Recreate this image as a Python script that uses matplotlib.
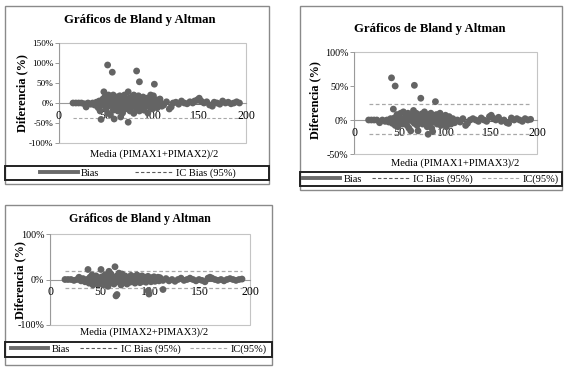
import matplotlib
matplotlib.use("Agg")
import matplotlib.pyplot as plt
from matplotlib.patches import Rectangle
from matplotlib.lines import Line2D

plt.rcParams['font.family'] = ['Liberation Serif', 'DejaVu Serif']

W, H = 566, 372

# ---------------- data ----------------
x1 = [15, 18, 21, 24, 27, 29, 31, 34, 36, 38, 40, 41,
      42, 43, 44, 45, 46, 47, 48, 48, 49, 50, 50, 51, 52, 52, 53, 53, 54, 55, 56, 57, 57, 58, 58, 59,
      60, 60, 61, 62, 63, 63, 64, 65, 66, 66, 67, 68, 68, 69, 70, 70, 71, 72, 73, 74, 74, 75, 75, 76,
      77, 78, 78, 79, 80, 80, 81, 82, 83, 83, 84, 85, 85, 86, 86, 87, 88, 88, 89, 90, 90, 91, 92, 93,
      93, 94, 95, 95, 96, 97, 98, 98, 99, 100, 100, 101, 102, 102, 103, 104, 105, 106, 107, 108, 109, 110,
      112, 115, 118, 120, 122, 125, 128, 131, 134, 137, 140, 143, 145, 148, 150, 152, 155, 158, 161,
      164, 166, 169, 172, 175, 178, 181, 184, 187, 190, 193]
y1 = [0, 0, 0, 0, -2, -10, 0, -3, 0, -5, 2, -8,
      -12, 5, -20, -41, -5, 10, 28, -3, 15, -15, 5, 0, 95, -25, 20, -8, 3, -30, 12, 77, -5, 20, -18, -40,
      0, 8, -10, 15, -20, 5, -3, 18, -35, -12, 2, 10, -25, -5, 20, 0, -15, 8, -8, 28, -48, 12, -3, -20,
      5, 15, -10, 0, -26, 20, -5, 8, 80, -15, 3, 18, -8, 53, -20, 0, 10, -12, 5, -3, 15, -18, 2, -8,
      8, 12, -25, 0, 5, -10, 20, -3, 3, -15, 10, 18, 47, -5, 0, 8, -12, 3, -3, 10, 0, -8,
      -5, 3, -15, -10, 0, 2, -3, 5, 0, -2, 3, 0, 5, 8, 12, 5, 0, 3, -5,
      -8, 2, 0, -3, 5, 0, 2, -2, 0, 3, 0]

x2 = [16, 19, 22, 25, 28, 31, 34, 36, 38, 40,
      41, 42, 43, 44, 45, 45, 46, 47, 48, 49, 50, 51, 52, 53, 54, 55, 56, 57, 58, 59, 60, 60, 61, 62,
      63, 64, 65, 66, 66, 67, 68, 69, 70, 70, 71, 72, 73, 73, 74, 75, 76, 77, 78, 79, 80, 81, 81, 82,
      83, 84, 85, 86, 86, 87, 88, 89, 89, 90, 91, 92, 93, 94, 95, 96, 97, 98, 99, 100, 101, 102, 103,
      104, 105, 106, 108, 110,
      113, 116, 119, 122, 124, 127, 130, 133, 136, 139, 142, 145, 148, 150, 152, 155, 158, 161, 164,
      167, 169, 172, 175, 178, 181, 184, 187, 190, 193]
y2 = [0, 0, 0, 0, -4, 0, -2, 0, -3, 2,
      62, -5, 16, 3, 50, -8, 0, 8, -10, 5, -3, 10, 0, -6, 12, 2, -4, 6, -8, 10, 0, -12, 4, -16,
      8, -2, 14, 51, -5, 3, 10, -8, -16, 2, 6, -4, 32, 0, 9, -6, 3, 12, -3, 5, -10, -21, 8, 0,
      -5, 10, -12, -17, 3, 6, -3, 27, 0, 8, -6, 4, -2, 10, -8, 2, 5, -4, 0, 7, -10, 3, -3,
      5, 0, -6, 2, -4,
      0, -3, 2, -8, -5, 0, 2, 0, -2, 3, 0, -2, 5, 7, 3, 0, 4, -2, 0,
      -4, -5, 3, 0, 2, 0, -2, 2, 0, 1]

x3 = [15, 18, 21, 24, 27, 29, 31, 33, 35, 37,
      38, 39, 40, 41, 42, 43, 44, 45, 46, 47, 48, 49, 50, 51, 52, 53, 54, 55, 56, 57, 58, 59, 60, 60,
      61, 62, 63, 64, 65, 66, 66, 67, 67, 68, 69, 70, 71, 72, 73, 74, 75, 76, 77, 78, 79, 80, 81, 82,
      83, 84, 85, 86, 87, 88, 89, 90, 91, 92, 93, 94, 95, 96, 97, 98, 98, 99, 100, 101, 102, 103, 104,
      105, 106, 107, 108, 109, 110, 111, 113, 113,
      116, 119, 122, 125, 128, 131, 134, 137, 140, 143, 146, 149, 152, 155, 158, 160, 162, 165, 168,
      171, 174, 177, 180, 183, 186, 189, 192]
y3 = [0, 0, 0, -2, 0, 5, -3, 2, -5, 0,
      22, -8, 5, -3, 10, -12, 2, -6, 8, 0, -10, 4, -4, 22, 6, -12, 0, 10, -6, 3, -15, 18, 0, -8,
      12, -3, 5, -10, 28, -36, 2, -33, 8, -5, 14, 0, -12, 12, 4, -6, 8, -2, -10, 5, 0, -6, 9, 2,
      -4, 6, -8, 0, 10, -3, 4, -7, 2, 8, -4, 0, 5, -6, 3, -25, 7, -32, 0, -5, 4, -2, 6,
      -4, 2, 0, 5, -3, 4, 0, -22, -2,
      2, -3, 0, -4, 0, 3, -2, 0, 3, 0, -3, 0, -2, -5, 3, 5, 3, 0, -2,
      0, -3, 0, 2, 0, -2, 0, 1]

bias1, bias2, bias3 = 0, 0, 0
ic_bias1 = [-38]
ic_bias2 = [-2, 2]
ic_bias3 = [-2, 2]
ic2 = [-20, 23]
ic3 = [-18, 19]

yticks1 = [-100, -50, 0, 50, 100, 150]
yticks2 = [-50, 0, 50, 100]
yticks3 = [-100, 0, 100]
xticks = [0, 50, 100, 150, 200]

title = "Gráficos de Bland y Altman"
ylabel = "Diferencia (%)"
xlabels = ["Media (PIMAX1+PIMAX2)/2", "Media (PIMAX1+PIMAX3)/2", "Media (PIMAX2+PIMAX3)/2"]

PT = '#646464'
BIAS_C = '#6a6a6a'
ICB_C = '#5a5a5a'
IC_C = '#a8a8a8'
DASH = (3, 2)


def fbox(l, t, r, b):
    return [l / W, 1 - b / H, (r - l) / W, (b - t) / H]


fig = plt.figure(figsize=(W / 100, H / 100), dpi=100)


def frame(l, t, r, b, ec, lw):
    fig.add_artist(Rectangle((l / W, 1 - b / H), (r - l) / W, (b - t) / H,
                             transform=fig.transFigure, fill=False, ec=ec, lw=lw))


def panel(outer, legbox, legcx, colsp, axbox, xs, ys, ylim, yticks, ytfs, bias, icb, ic,
          xlab, title_xy, title_fs, ylab_xy, xlab_xy, with_ic):
    frame(*outer, ec='#8a8a8a', lw=1.0)
    frame(*legbox, ec='#222222', lw=1.4)
    ax = fig.add_axes(fbox(*axbox))
    ax.set_xlim(0, 200)
    ax.set_ylim(*ylim)
    for s in ['top', 'right', 'left']:
        ax.spines[s].set_visible(False)
    ax.add_patch(Rectangle((0, 0), 1, 1, transform=ax.transAxes, fill=False,
                           ec='#c4c4c4', lw=0.8, clip_on=False, zorder=0))
    ax.axvline(0, color='#9a9a9a', lw=0.8, zorder=1)
    ax.spines['bottom'].set_position(('data', 0))
    ax.spines['bottom'].set_color('#9a9a9a')
    ax.spines['bottom'].set_linewidth(0.8)
    ax.set_xticks(xticks)
    ax.set_xticklabels([str(v) for v in xticks], fontsize=8.5)
    ax.tick_params(axis='x', length=0, pad=5)
    ax.set_yticks(yticks)
    ax.set_yticklabels([f"{v}%" for v in yticks], fontsize=ytfs)
    ax.tick_params(axis='y', length=3, width=0.7, color='#9a9a9a', pad=1)
    xmin, xmax = min(xs), max(xs)
    ax.plot([xmin, xmax], [bias, bias], color=BIAS_C, lw=2.2, zorder=2)
    for v in icb:
        ax.plot([xmin, xmax], [v, v], color=ICB_C if with_ic else IC_C, lw=0.8,
                dashes=DASH, zorder=2)
    for v in ic:
        ax.plot([xmin, xmax], [v, v], color=IC_C, lw=0.9, dashes=DASH, zorder=2)
    ax.scatter(xs, ys, s=24, color=PT, edgecolors='none', zorder=3)

    fig.text(title_xy[0] / W, 1 - title_xy[1] / H, title, ha='center', va='center',
             fontsize=title_fs, fontweight='bold')
    fig.text(ylab_xy[0] / W, 1 - ylab_xy[1] / H, ylabel, ha='center', va='center',
             rotation=90, fontsize=8.8, fontweight='bold')
    fig.text(xlab_xy[0] / W, 1 - xlab_xy[1] / H, xlab, ha='center', va='center',
             fontsize=7.6)

    handles = [Line2D([], [], color=BIAS_C, lw=2.8),
               Line2D([], [], color=ICB_C, lw=0.8, dashes=DASH)]
    labels = ["Bias", "IC Bias (95%)"]
    if with_ic:
        handles.append(Line2D([], [], color=IC_C, lw=0.8, dashes=DASH))
        labels.append("IC(95%)")
    l, t, r, b = legbox
    fig.legend(handles, labels, loc='center',
               bbox_to_anchor=(legcx / W, 1 - (t + b) / 2 / H),
               ncol=len(labels), frameon=False, fontsize=7.5, borderpad=0,
               handlelength=3.6, handletextpad=0.35, columnspacing=colsp,
               borderaxespad=0)
    return ax


panel((5, 6, 269, 184), (5, 166, 269, 180), 138, 3.4, (59, 43, 246, 143), x1, y1,
      (-100, 150), yticks1, 6.6, bias1, ic_bias1, [], xlabels[0], (140, 20), 9.2,
      (22, 93), (154, 154), False)
panel((300, 6, 562, 190), (300, 172, 562, 186), 431, 0.9, (354, 52, 537, 154), x2, y2,
      (-50, 100), yticks2, 7.2, bias2, ic_bias2, ic2, xlabels[1], (430, 29), 9.2,
      (315, 100), (455, 163), True)
panel((5, 205, 272, 365), (5, 342, 272, 357), 139, 0.9, (50, 234, 250, 325), x3, y3,
      (-100, 100), yticks3, 7.2, bias3, ic_bias3, ic3, xlabels[2], (140, 219), 8.6,
      (20, 280), (144, 332), True)

fig.savefig("out.png", dpi=100)
